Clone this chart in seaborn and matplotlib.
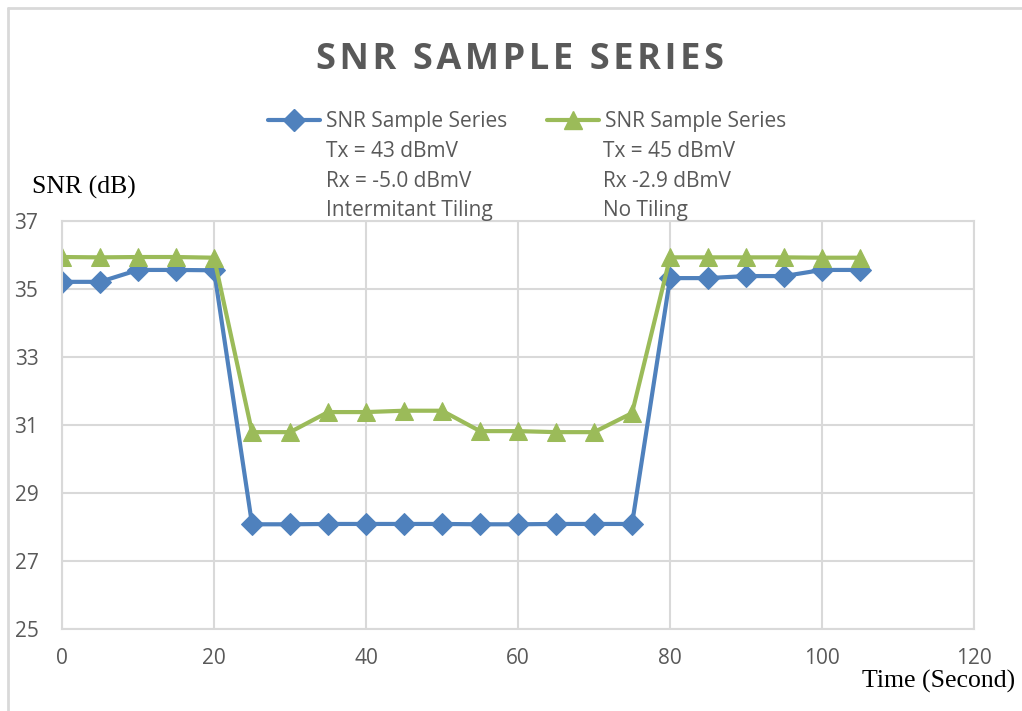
import pandas as pd
import seaborn as sns
import matplotlib.pyplot as plt
from matplotlib.lines import Line2D

# data
time_s = [0, 5, 10, 15, 20, 25, 30, 35, 40, 45, 50, 55, 60, 65, 70, 75, 80, 85, 90, 95, 100, 105]
snr_tiling = [35.21, 35.21, 35.56, 35.56, 35.55, 28.08, 28.08, 28.09, 28.09, 28.09, 28.09, 28.08,
              28.08, 28.09, 28.09, 28.09, 35.32, 35.32, 35.38, 35.38, 35.56, 35.56]
snr_no_tiling = [35.94, 35.93, 35.94, 35.94, 35.92, 30.79, 30.79, 31.38, 31.38, 31.42, 31.42, 30.82,
                 30.82, 30.79, 30.79, 31.35, 35.93, 35.93, 35.93, 35.93, 35.92, 35.92]

label_a = ["SNR Sample Series", "Tx = 43 dBmV", "Rx = -5.0 dBmV", "Intermitant Tiling"]
label_b = ["SNR Sample Series", "Tx = 45 dBmV", "Rx -2.9 dBmV", "No Tiling"]
title = "SNR SAMPLE SERIES"

blue = "#4f81bd"
green = "#9bbb59"
grey = "#595959"

df = pd.DataFrame({"t": time_s, "a": snr_tiling, "b": snr_no_tiling})

sns.set_style("white")
plt.rcParams['font.family'] = ['Open Sans', 'DejaVu Sans']

fig = plt.figure(figsize=(10.22, 7.11), dpi=100)
ax = fig.add_axes([0.0607, 0.1153, 0.8924, 0.5739])

sns.lineplot(data=df, x="t", y="a", ax=ax, color=blue, lw=3, marker="D", ms=11.5,
             markeredgecolor=blue)
sns.lineplot(data=df, x="t", y="b", ax=ax, color=green, lw=3, marker="^", ms=13.5,
             markeredgecolor=green)

ax.set_xlim(0, 120)
ax.set_ylim(25, 37)
ax.set_xticks(range(0, 121, 20))
ax.set_yticks(range(25, 38, 2))
ax.grid(True, color="#d9d9d9", lw=1.5)
ax.set_axisbelow(True)
for s in ax.spines.values():
    s.set_color("#d9d9d9")
    s.set_linewidth(1.5)
ax.tick_params(length=0, labelsize=15, colors=grey, pad=14)
ax.tick_params(axis="y", pad=17)
ax.set_xlabel("")
ax.set_ylabel("")

# title with a little letter spacing
fig.text(0.509, 0.916, "\u200a".join(title), ha="center", va="center", fontsize=26,
         fontweight="bold", color=grey)
fig.text(0.031, 0.737, "SNR (dB)", family="Liberation Serif", fontsize=18.5, color="black",
         va="center")
fig.text(0.993, 0.042, "Time (Second)", family="Liberation Serif", fontsize=18.5, color="black",
         ha="right", va="center")

# legend: handles on first line, rest of text under it
h_a = Line2D([], [], color=blue, lw=3, marker="D", ms=11.5)
h_b = Line2D([], [], color=green, lw=3, marker="^", ms=13.5)
leg = fig.legend([h_a, h_b], [label_a[0], label_b[0]], ncol=2, loc="center left",
                 bbox_to_anchor=(0.262, 0.829), frameon=False, fontsize=15,
                 handlelength=2.5, handletextpad=0.3, columnspacing=1.9, labelcolor=grey,
                 borderaxespad=0, borderpad=0)
line_y = [0.829, 0.787, 0.745, 0.704]
for i in range(1, 4):
    fig.text(0.319, line_y[i], label_a[i], fontsize=15, color=grey, va="center")
    fig.text(0.590, line_y[i], label_b[i], fontsize=15, color=grey, va="center")

# chart area border
fig.add_artist(Line2D([0.008, 0.008], [0, 0.989], color="#d9d9d9", lw=2,
                      transform=fig.transFigure))
fig.add_artist(Line2D([0.008, 1], [0.989, 0.989], color="#d9d9d9", lw=2,
                      transform=fig.transFigure))

plt.savefig("out.png", dpi=100)
